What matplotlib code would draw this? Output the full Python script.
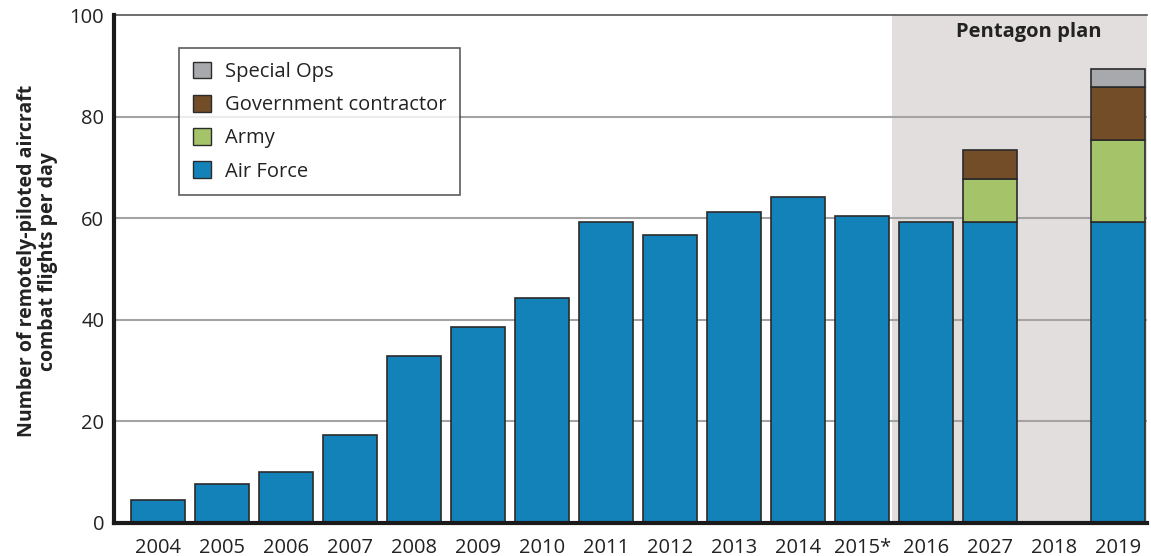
import numpy as np
import matplotlib.pyplot as plt
from matplotlib.patches import Patch

plt.rcParams['font.family'] = ['Open Sans', 'DejaVu Sans']

years = ['2004', '2005', '2006', '2007', '2008', '2009', '2010', '2011',
         '2012', '2013', '2014', '2015*', '2016', '2027', '2018', '2019']
air_force = [4.5, 7.6, 10.1, 17.3, 32.8, 38.6, 44.3, 59.2,
             56.6, 61.3, 64.2, 60.5, 59.2, 59.2, 0, 59.2]
army = [0, 0, 0, 0, 0, 0, 0, 0, 0, 0, 0, 0, 0, 8.6, 0, 16.2]
contractor = [0, 0, 0, 0, 0, 0, 0, 0, 0, 0, 0, 0, 0, 5.7, 0, 10.4]
special_ops = [0, 0, 0, 0, 0, 0, 0, 0, 0, 0, 0, 0, 0, 0, 0, 3.5]

c_af = '#1382b9'
c_army = '#a5c46a'
c_con = '#734c28'
c_so = '#a7a9ac'
edge = '#2b2b2b'

fig = plt.figure(figsize=(11.51, 5.56), dpi=100)
ax = fig.add_axes([0.099, 0.0594, 0.8975, 0.9136])

x = np.arange(len(years))
w = 0.84

ax.axvspan(11.47, 16, color='#e2dedd', zorder=0, lw=0)
for yv in [20, 40, 60, 80]:
    ax.axhline(yv, color='#a3a3a3', lw=1.5, zorder=1)

af = np.array(air_force)
ar = np.array(army)
co = np.array(contractor)
so = np.array(special_ops)

def draw(vals, bottom, color):
    m = vals > 0
    ax.bar(x[m], vals[m], w, bottom=bottom[m], color=color, edgecolor=edge,
           linewidth=1.2, zorder=2)

draw(af, np.zeros_like(af), c_af)
draw(ar, af, c_army)
draw(co, af + ar, c_con)
draw(so, af + ar + co, c_so)

ax.set_xlim(-0.69, 15.45)
ax.set_ylim(0, 100)
ax.set_xticks(x)
ax.set_xticklabels(years)
ax.set_yticks([0, 20, 40, 60, 80, 100])
ax.tick_params(length=0, labelsize=14.5, colors='#222222', pad=7)
ax.tick_params(axis='x', pad=11)

ax.spines['right'].set_visible(False)
ax.spines['top'].set_color('#555555')
ax.spines['top'].set_linewidth(1.2)
ax.spines['left'].set_linewidth(3)
ax.spines['left'].set_color('#1a1a1a')
ax.spines['bottom'].set_linewidth(3)
ax.spines['bottom'].set_color('#1a1a1a')
ax.spines['left'].set_zorder(3)
ax.spines['bottom'].set_zorder(3)

ax.set_ylabel('Number of remotely-piloted aircraft\ncombat flights per day',
              fontsize=14, fontweight='bold', color='#222222',
              linespacing=1.1)
ax.yaxis.set_label_coords(-0.054, 0.515)

ax.text(13.6, 96.6, 'Pentagon plan', ha='center', va='center', fontsize=14.5,
        fontweight='bold', color='#222222')

handles = [Patch(facecolor=c_so, edgecolor=edge, label='Special Ops'),
           Patch(facecolor=c_con, edgecolor=edge, label='Government contractor'),
           Patch(facecolor=c_army, edgecolor=edge, label='Army'),
           Patch(facecolor=c_af, edgecolor=edge, label='Air Force')]
leg = ax.legend(handles=handles, loc='upper left', bbox_to_anchor=(0.063, 0.935),
                fontsize=14.5, frameon=True, fancybox=False, edgecolor='#333333',
                handlelength=0.9, handleheight=0.9, handletextpad=0.7,
                labelspacing=0.64, borderpad=0.68, borderaxespad=0)
leg.get_frame().set_linewidth(1.2)
for t in leg.get_texts():
    t.set_color('#222222')

fig.savefig('out.png', dpi=100)
